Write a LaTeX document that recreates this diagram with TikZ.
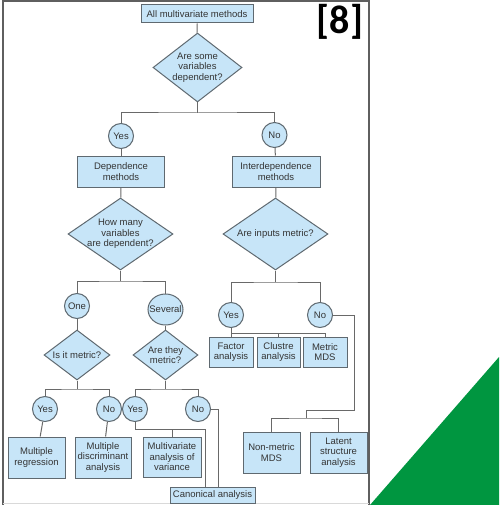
\documentclass[tikz,border=0pt]{standalone}
\usepackage{fontspec}
\setmainfont{Liberation Sans}
\newfontfamily\tagfont{Carlito}
\usetikzlibrary{shapes.geometric}

\definecolor{boxfill}{RGB}{199,229,248}
\definecolor{boxline}{RGB}{95,105,112}
\definecolor{wire}{RGB}{105,105,105}
\definecolor{ink}{RGB}{52,52,52}
\definecolor{framegray}{RGB}{95,95,95}
\definecolor{cornergreen}{RGB}{0,150,64}

\tikzset{
  shapebase/.style={draw=boxline, fill=boxfill, line width=1pt, inner sep=0pt,
    text=ink, font=\fontsize{9.5}{10.5}\selectfont, align=center},
  rbox/.style={shapebase, rectangle, minimum width=#1},
  ask/.style={shapebase, diamond},
  answer/.style={shapebase, circle, minimum size=25pt},
  oval/.style={shapebase, ellipse},
  caption/.style={inner sep=0pt, text=ink, font=\fontsize{9.5}{10.5}\selectfont, align=center},
  wirestyle/.style={draw=wire, line width=1pt},
}

\begin{document}
\begin{tikzpicture}[x=1pt, y=-1pt]
\useasboundingbox (0,0) rectangle (499,505);

% page frame and corner decoration
\draw[framegray, line width=1.3pt] (3,505) -- (3,1) -- (369,1) -- (369,505);
\draw[black!15, line width=0.8pt] (3,503.5) -- (369,503.5);
\fill[cornergreen] (370,505) -- (499,357) -- (499,505) -- cycle;
\node[inner sep=0pt, font=\tagfont\bfseries\fontsize{40}{40}\selectfont] (tag) at (340,22) {[8]};

% top level
\node[rbox=112pt, minimum height=18pt] (all) at (197,14) {All multivariate methods};
\node[ask, minimum width=89pt, minimum height=69pt] (q1) at (197.5,67.5) {};
\node[caption] (q1t) at (q1.center) {Are some\\variables\\dependent?};
\node[answer] (yes1) at (121,136) {Yes};
\node[answer] (no1) at (274.5,135) {No};
\node[rbox=87pt, minimum height=31pt] (dep) at (121,171.5) {Dependence\\methods};
\node[rbox=88pt, minimum height=31pt] (inter) at (276,171.5) {Interdependence\\methods};

% dependence branch
\node[ask, minimum width=105pt, minimum height=72pt] (q2) at (120.5,234) {};
\node[caption] (q2t) at (q2.center) {How many\\variables\\are dependent?};
\node[answer] (one) at (77,306) {One};
\node[oval, minimum width=35pt, minimum height=31pt] (sev) at (165.5,309.5) {};
\node[caption] (sevt) at (sev.center) {Several};
\node[ask, minimum width=66pt, minimum height=50pt] (q4) at (77,355) {};
\node[caption] (q4t) at (q4.center) {Is it metric?};
\node[ask, minimum width=65pt, minimum height=50pt] (q5) at (165.5,355) {};
\node[caption] (q5t) at (q5.center) {Are they\\metric?};
\node[answer] (yes4) at (45,409) {Yes};
\node[answer] (no4) at (109,409) {No};
\node[answer] (yes5) at (135,409) {Yes};
\node[answer] (no5) at (198,409) {No};
\node[rbox=57pt, minimum height=41pt] (mreg) at (36.5,457.5) {Multiple\\regression};
\node[rbox=56pt, minimum height=41pt] (mda) at (103,457.5) {Multiple\\discriminant\\analysis};
\node[rbox=58pt, minimum height=40pt] (manova) at (172,457) {Multivariate\\analysis of\\variance};
\node[rbox=85pt, minimum height=16pt] (canon) at (212.5,495) {Canonical analysis};

% interdependence branch
\node[ask, minimum width=105pt, minimum height=72pt] (q3) at (275.5,234) {};
\node[caption] (q3t) at (q3.center) {Are inputs metric?};
\node[answer] (yes3) at (231,315) {Yes};
\node[answer] (no3) at (320,315) {No};
\node[rbox=44pt, minimum height=30pt] (factor) at (231,352) {Factor\\analysis};
\node[rbox=43pt, minimum height=30pt] (cluster) at (278.5,352) {Clustre\\analysis};
\node[rbox=44pt, minimum height=30pt] (mmds) at (325,352) {Metric\\MDS};
\node[rbox=57pt, minimum height=41pt] (nmmds) at (271.5,452.5) {Non-metric\\MDS};
\node[rbox=57pt, minimum height=41pt] (latent) at (338.5,452.5) {Latent\\structure\\analysis};

% branch points
\coordinate (s1) at (197.5,113);
\coordinate (s2) at (120.5,281);
\coordinate (s3) at (275.5,282);
\coordinate (s4) at (77,389);
\coordinate (s5) at (165.5,389);
\coordinate (s6) at (231,333);
\coordinate (k1) at (205,429);
\coordinate (k2) at (218,409);
\coordinate (r1) at (354,410);
\coordinate (r2) at (306,418);

% connectors
\begin{scope}[wirestyle]
\draw (all) -- (q1);
\draw (q1.south) -- (s1);
\draw (yes1.north) |- (s1) -| (no1.north);
\draw (yes1) -- (dep);
\draw (no1) -- (inter);
\draw (dep) -- (q2);
\draw (inter) -- (q3);

\draw (q2.south) -- (s2);
\draw (one.north) |- (s2) -| (sev.north);
\draw (one) -- (q4);
\draw (sev) -- (q5);
\draw (q4.south) -- (s4);
\draw (yes4.north) |- (s4) -| (no4.north);
\draw (q5.south) -- (s5);
\draw (yes5.north) |- (s5) -| (no5.north);
\draw (yes4) -- (mreg);
\draw (no4) -- (mda);
\draw (yes5.south) |- (k1) -- (k1 |- canon.north);
\draw (manova.north) -- (manova.north |- k1);
\draw (no5.east) -- (k2) -- (k2 |- canon.north);

\draw (q3.south) -- (s3);
\draw (yes3.north) |- (s3) -| (no3.north);
\draw (yes3) -- (factor);
\draw (s6) -| (cluster.north);
\draw (s6) -| (mmds.north);
\draw (no3.east) -| (r1) -| (r2);
\draw (nmmds.north) |- (r2) -| (latent.north);
\end{scope}
\end{tikzpicture}
\end{document}
